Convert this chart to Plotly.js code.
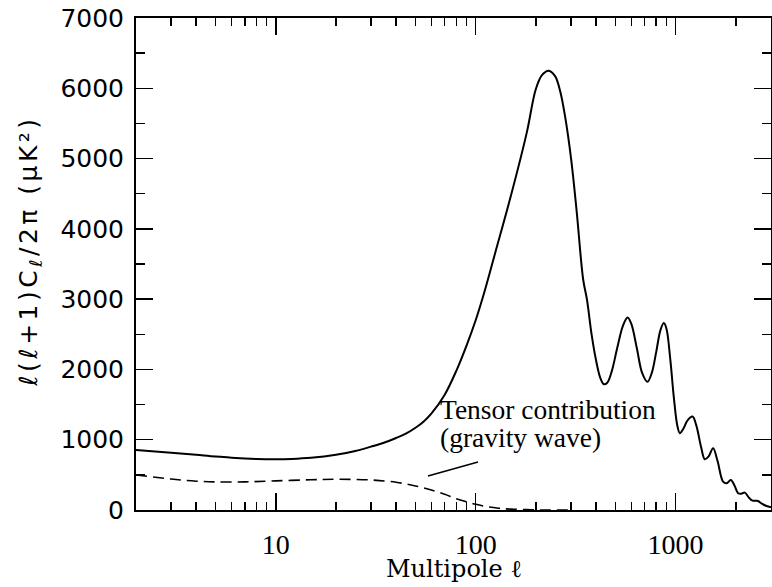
<!DOCTYPE html>
<html>
<head>
<meta charset="utf-8">
<script src="https://cdn.plot.ly/plotly-3.0.1.min.js"></script>
<style>
html,body{margin:0;padding:0;background:#fff;}
#chart{width:772px;height:587px;}
g.annotation[data-index="0"] text{letter-spacing:3.5px;}
</style>
</head>
<body>
<div id="chart"></div>
<script>
// Total CMB temperature power spectrum (solid)
var ellTotal = [2,3,4,5,6,7,8,10,12,15,20,25,30,35,40,45,50,55,60,70,80,90,100,110,125,150,180,200,215,232,250,265,280,300,320,345,360,380,400,420,437,455,480,510,545,575,600,640,680,723,760,800,840,873,900,940,980,1020,1050,1090,1150,1215,1270,1340,1400,1460,1540,1620,1728,1800,1888,1970,2054,2130,2218,2320,2424,2500,2583,2700,2849,3000];
var clTotal = [855,816,785,760,745,733,726,722,726,742,785,840,902,960,1025,1090,1170,1260,1370,1640,1980,2340,2700,3080,3650,4470,5366,5990,6190,6250,6170,5950,5600,5000,4250,3276,3000,2500,2130,1880,1790,1810,1980,2300,2620,2739,2650,2300,1950,1823,1950,2250,2560,2659,2580,2150,1600,1200,1092,1150,1280,1330,1200,900,722,760,879,700,403,380,427,350,238,230,247,180,133,130,128,90,57,40];
// Tensor (gravity wave) contribution (dashed)
var ellTensor = [2,3,4,5,7,10,15,20,30,40,50,60,70,80,90,100,115,130,150,180,220,300];
var clTensor = [499,440,410,400,400,415,430,437,427,395,342,285,224,161,118,81,45,25,12,5,0,0];

var yTickVals = [0,1000,2000,3000,4000,5000,6000,7000];
var xTickVals = [10,100,1000];
var xTickText = ['10','100','1000'];

var traces = [
  {x: ellTotal, y: clTotal, type: 'scatter', mode: 'lines',
   line: {color: '#000', width: 2, shape: 'spline', smoothing: 1}, hoverinfo: 'skip'},
  {x: ellTensor, y: clTensor, type: 'scatter', mode: 'lines',
   line: {color: '#000', width: 1.6, dash: '11px,6px', shape: 'spline', smoothing: 1}, hoverinfo: 'skip'}
];

var L = 136, R = 771, T = 18, B = 510;
function px(xp){ return (xp - L) / (R - L); }
function py(yp){ return (B - yp) / (B - T); }

var layout = {
  width: 772, height: 587,
  margin: {l: L, r: 772 - R, t: T, b: 587 - B, pad: 0},
  paper_bgcolor: '#fff', plot_bgcolor: '#fff',
  showlegend: false,
  xaxis: {
    type: 'log', range: [Math.log10(2), Math.log10(3000)],
    showgrid: false, zeroline: false,
    showline: true, linecolor: '#000', linewidth: 2, mirror: 'ticks',
    ticks: 'inside', ticklen: 17, tickwidth: 1.5, tickcolor: '#000',
    tickvals: xTickVals, ticktext: xTickText,
    ticklabelstandoff: 8,
    tickfont: {family: 'Liberation Serif', size: 28, color: '#000'},
    minor: {ticks: 'inside', ticklen: 8, tickwidth: 1.5, tickcolor: '#000', dtick: 'D1', showgrid: false}
  },
  yaxis: {
    range: [0, 7000],
    showgrid: false, zeroline: false,
    showline: true, linecolor: '#000', linewidth: 2, mirror: 'ticks',
    ticks: 'inside', ticklen: 17, tickwidth: 1.5, tickcolor: '#000',
    tickvals: yTickVals,
    ticklabelstandoff: 5,
    tickfont: {family: 'DejaVu Sans', size: 25, color: '#000'},
    minor: {ticks: 'inside', ticklen: 9, tickwidth: 1.5, tickcolor: '#000', dtick: 500, showgrid: false}
  },
  annotations: [
    {xref: 'paper', yref: 'paper', x: px(30), y: py(251), text: 'ℓ(ℓ+1)C<sub>ℓ</sub>/2π (μK²)',
     textangle: -90, showarrow: false, xanchor: 'center', yanchor: 'middle',
     font: {family: 'DejaVu Sans', size: 25, color: '#000'}},
    {xref: 'paper', yref: 'paper', x: px(454), y: py(569), text: 'Multipole ℓ',
     showarrow: false, xanchor: 'center', yanchor: 'middle',
     font: {family: 'DejaVu Serif', size: 24, color: '#000'}},
    {xref: 'paper', yref: 'paper', x: px(438), y: py(409), text: 'Tensor contribution',
     showarrow: false, xanchor: 'left', yanchor: 'middle',
     font: {family: 'Liberation Serif', size: 27.5, color: '#000'}},
    {xref: 'paper', yref: 'paper', x: px(438), y: py(437), text: '(gravity wave)',
     showarrow: false, xanchor: 'left', yanchor: 'middle',
     font: {family: 'Liberation Serif', size: 27.5, color: '#000'}}
  ],
  shapes: [
    {type: 'line', xref: 'paper', yref: 'paper', x0: px(428), y0: py(476), x1: px(478), y1: py(462),
     line: {color: '#000', width: 1.6}}
  ]
};

Plotly.newPlot('chart', traces, layout, {staticPlot: true, displayModeBar: false});
</script>
</body>
</html>
